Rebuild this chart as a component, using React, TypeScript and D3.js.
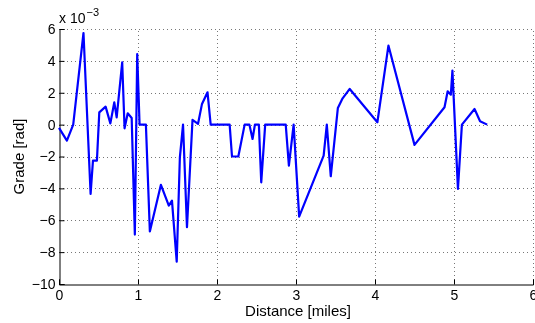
import React, { useEffect, useRef } from "react";
import * as d3 from "d3";

// distance [miles] and grade [x 10^-3 rad]
const distance = [
  0, 0.1, 0.18, 0.31, 0.4, 0.43, 0.48, 0.51, 0.59, 0.65, 0.7, 0.73, 0.8, 0.83,
  0.87, 0.92, 0.96, 0.99, 1.02, 1.1, 1.15, 1.29, 1.39, 1.43, 1.49, 1.53, 1.57,
  1.62, 1.69, 1.76, 1.81, 1.88, 1.92, 2.16, 2.19, 2.27, 2.35, 2.41, 2.45, 2.48,
  2.53, 2.56, 2.61, 2.87, 2.91, 2.97, 3.04, 3.35, 3.39, 3.44, 3.53, 3.59, 3.68,
  4.03, 4.17, 4.5, 4.88, 4.92, 4.96, 4.98, 5.05, 5.1, 5.26, 5.33, 5.42,
];
const grade = [
  -0.2, -1.0, 0, 5.75, -4.35, -2.26, -2.26, 0.77, 1.13, 0.08, 1.4, 0.46, 3.9,
  -0.23, 0.71, 0.42, -6.9, 4.43, 0, 0, -6.7, -3.78, -5.08, -4.77, -8.6, -2.05,
  0, -6.44, 0.3, 0.05, 1.3, 2.03, 0, 0, -2.0, -2.0, 0, 0, -0.9, 0, 0, -3.62, 0,
  0, -2.57, 0, -5.77, -1.94, 0, -3.24, 1.05, 1.65, 2.24, 0.15, 4.96, -1.27, 1.09,
  2.09, 1.88, 3.39, -4.03, 0, 0.98, 0.21, 0,
];
const xTicks = [0, 1, 2, 3, 4, 5, 6];
const yTicks = [-10, -8, -6, -4, -2, 0, 2, 4, 6];

const App = () => {
  const svgRef = useRef<SVGSVGElement>(null);

  useEffect(() => {
    const width = 535;
    const height = 323;
    const margin = { left: 59, right: 2, top: 29, bottom: 39 };
    const font = "Liberation Sans, Arial, sans-serif";
    const fmt = (d: d3.NumberValue) => d3.format("d")(d as number).replace("-", "\u2212");

    const svg = d3.select(svgRef.current);
    svg.selectAll("*").remove();
    svg.attr("width", width).attr("height", height);

    const x = d3.scaleLinear().domain([0, 6]).range([margin.left, width - margin.right]);
    const y = d3.scaleLinear().domain([-10, 6]).range([height - margin.bottom, margin.top]);

    // grid
    const grid = svg.append("g").attr("stroke", "#777").attr("stroke-width", 1)
      .attr("stroke-dasharray", "1,3");
    grid.selectAll("line.gx").data(xTicks.slice(1)).join("line")
      .attr("x1", (d) => Math.round(x(d)) + 0.5).attr("x2", (d) => Math.round(x(d)) + 0.5)
      .attr("y1", y(-10)).attr("y2", y(6));
    grid.selectAll("line.gy").data(yTicks.slice(1)).join("line")
      .attr("y1", (d) => Math.round(y(d)) + 0.5).attr("y2", (d) => Math.round(y(d)) + 0.5)
      .attr("x1", x(0)).attr("x2", x(6));

    // axes, ticks pointing inward
    const xAxis = svg.append("g")
      .attr("transform", `translate(0,${Math.round(y(-10)) + 0.5})`)
      .call(d3.axisBottom(x).tickValues(xTicks).tickSize(-5).tickPadding(6).tickFormat(fmt));
    const yAxis = svg.append("g")
      .attr("transform", `translate(${Math.round(x(0)) + 0.5},0)`)
      .call(d3.axisLeft(y).tickValues(yTicks).tickSize(-5).tickPadding(4).tickFormat(fmt));
    [xAxis, yAxis].forEach((a) => {
      a.select(".domain").attr("stroke", "#000");
      a.selectAll(".tick line").attr("stroke", "#000");
      a.selectAll("text").attr("font-family", font).attr("font-size", 14).attr("fill", "#000");
    });

    // data line
    const line = d3.line<number>().x((_, i) => x(distance[i])).y((d) => y(d));
    svg.append("path").datum(grade)
      .attr("fill", "none").attr("stroke", "#0000ff").attr("stroke-width", 2.2)
      .attr("stroke-linejoin", "round").attr("d", line);

    // labels
    const expo = svg.append("text").attr("x", x(0)).attr("y", 23)
      .attr("font-family", font).attr("font-size", 14);
    expo.append("tspan").text("x 10");
    expo.append("tspan").attr("font-size", 11).attr("dy", -7).attr("dx", 1).text("\u22123");

    svg.append("text").attr("x", 298).attr("y", 316)
      .attr("text-anchor", "middle").attr("font-family", font).attr("font-size", 15)
      .text("Distance [miles]");
    svg.append("text")
      .attr("transform", `translate(24,${(y(-10) + y(6)) / 2}) rotate(-90)`)
      .attr("text-anchor", "middle").attr("font-family", font).attr("font-size", 15)
      .text("Grade [rad]");
  }, []);

  return (
    <div style={{ position: "fixed", left: 0, top: 0 }}>
      <svg ref={svgRef}></svg>
    </div>
  );
};

export default App;
